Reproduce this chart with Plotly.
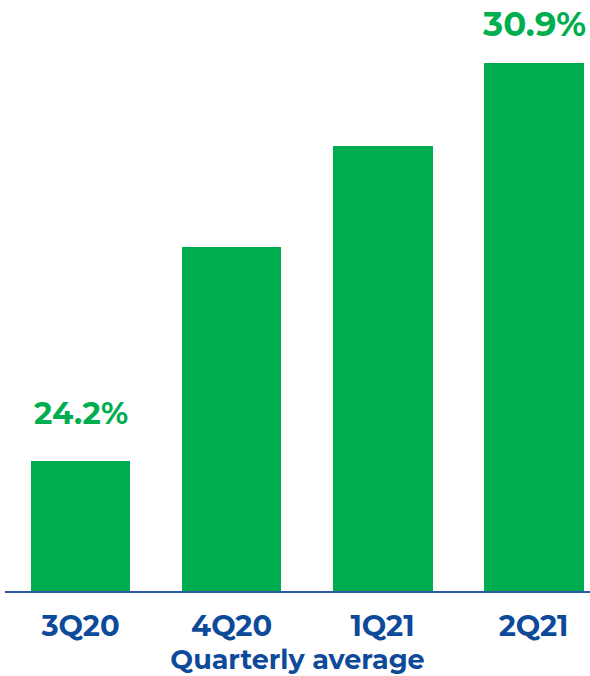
import plotly.graph_objects as go

categories = ["3Q20", "4Q20", "1Q21", "2Q21"]
values = [24.2, 27.8, 29.5, 30.9]
labels = ["24.2%", "", "", "30.9%"]
label_shift = [27, 0, 0, 16]
label_size = [31, 0, 0, 34]

GREEN = "#00AE4F"
BLUE = "#0D4A9A"
BASE = 22

fig = go.Figure()
fig.add_trace(go.Bar(
    x=list(range(len(categories))), y=[v - BASE for v in values],
    base=BASE, marker=dict(color=GREEN, line=dict(width=0)),
    width=0.662,
))

for i, (v, t, s, fs) in enumerate(zip(values, labels, label_shift, label_size)):
    if t:
        fig.add_annotation(x=i, y=v, text=f"<b>{t}</b>", showarrow=False,
                           yanchor="bottom", yshift=s,
                           font=dict(family="Montserrat, Open Sans, sans-serif", size=fs, color=GREEN))

fig.update_layout(
    width=590, height=676,
    margin=dict(l=5, r=0, t=0, b=85),
    plot_bgcolor="white", paper_bgcolor="white",
    showlegend=False,
    bargap=0,
    xaxis=dict(
        range=[-0.5, 3.374],
        tickmode="array", tickvals=list(range(len(categories))),
        ticktext=[f"<b>{c}</b>" for c in categories],
        tickfont=dict(family="Montserrat, Open Sans, sans-serif", size=29, color=BLUE),
        ticks="outside", ticklen=8, tickcolor="rgba(0,0,0,0)",
        showline=True, linecolor="#2A58A6", linewidth=2,
        showgrid=False, zeroline=False,
        title=dict(text="<b>Quarterly average</b>", standoff=0,
                   font=dict(family="Montserrat, Open Sans, sans-serif", size=27, color=BLUE)),
    ),
    yaxis=dict(range=[BASE, 31.97], visible=False, showgrid=False, zeroline=False),
)

fig.write_html("out.html")
